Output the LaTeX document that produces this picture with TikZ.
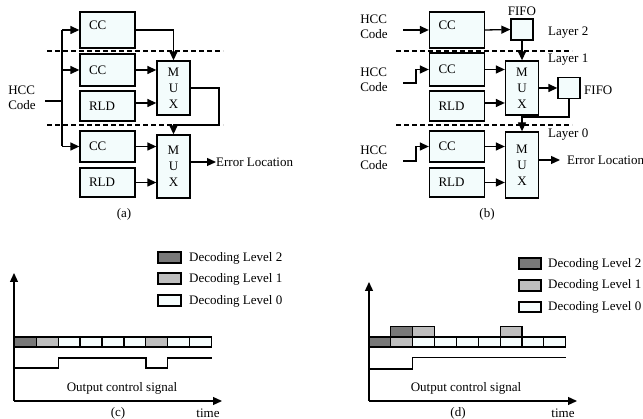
\documentclass[tikz,border=0pt]{standalone}
\usepackage{fontspec}
\setmainfont{Liberation Serif}
\usetikzlibrary{arrows.meta}
\definecolor{boxfill}{RGB}{243,252,252}
\definecolor{lvtwo}{RGB}{120,120,120}
\definecolor{lvone}{RGB}{190,190,190}
\definecolor{lvzero}{RGB}{246,253,253}
\begin{document}
\begin{tikzpicture}[x=1pt,y=-1pt,
  font=\fontsize{13}{15}\selectfont,
  ln/.style={line width=1.3pt},
  arr/.style={ln,-{Triangle[length=9pt,width=8pt]}},
  dsh/.style={line width=1.3pt,dash pattern=on 5pt off 3pt},
  blk/.style={draw,ln,fill=boxfill,minimum width=55pt,inner xsep=9pt,text width=37pt,align=left,inner ysep=0pt},
  muxbox/.style={draw,ln,fill=boxfill,minimum width=33pt,inner sep=0pt,align=center,
    font=\fontsize{13}{16}\selectfont},
  fifobox/.style={draw,ln,fill=boxfill,minimum width=22pt,minimum height=21pt,inner sep=0pt},
  txt/.style={inner sep=0pt},
  cell/.style={draw,line width=1.2pt}
]
\useasboundingbox (0,0) rectangle (643,419);

% ================= (a) =================
\node[blk,minimum height=36pt] (acc1) at (107.5,30) {CC\\[-6pt]\phantom{X}};
\node[blk,minimum height=32pt] (acc2) at (107.5,70) {CC};
\node[blk,minimum height=30pt] (arld1) at (107.5,106) {RLD};
\node[blk,minimum height=31pt] (acc3) at (107.5,146.5) {CC};
\node[blk,minimum height=29pt] (arld2) at (107.5,182.5) {RLD};
\node[muxbox,minimum height=54pt] (amux1) at (173.5,88) {M\\U\\X};
\node[muxbox,minimum height=63pt] (amux2) at (173.5,166.5) {M\\U\\X};
\draw[dsh] (47,51) -- (223,51);
\draw[dsh] (47,125) -- (223,125);
\node[txt,align=left] (ahcc) at (22,98) {HCC\\Code};
\coordinate (ain) at (45,101);
\coordinate (abusT) at (62,30);
\coordinate (abusB) at (62,146.5);
\draw[ln] (ain) -- (ain -| abusT);
\draw[ln] (abusT) -- (abusB);
\draw[arr] (abusT) -- (acc1.west);
\draw[arr] (acc2.west -| abusT) -- (acc2.west);
\draw[arr] (abusB) -- (acc3.west);
\draw[arr] (acc1.east) -| (amux1.north);
\draw[arr] (acc2.east) -- (acc2.east -| amux1.west);
\draw[arr] ([yshift=3pt]arld1.east) -- ([yshift=3pt]arld1.east -| amux1.west);
\coordinate (aret) at (219,125);
\draw[arr] (amux1.east) -| (aret) -| (amux2.north);
\draw[arr] (acc3.east) -- (acc3.east -| amux2.west);
\draw[arr] (arld2.east) -- (arld2.east -| amux2.west);
\node[txt,anchor=west] (aerr) at (216,162) {Error Location};
\draw[arr] (amux2.east |- aerr.west) -- (aerr.west);
\node[txt] (alab) at (124,214) {(a)};

% ================= (b) =================
\node[blk,minimum height=36pt] (bcc1) at (457,30) {CC\\[-6pt]\phantom{X}};
\node[blk,minimum height=33pt] (bcc2) at (457,69.5) {CC};
\node[blk,minimum height=30pt] (brld1) at (457,106) {RLD};
\node[blk,minimum height=31pt] (bcc3) at (457,146.5) {CC};
\node[blk,minimum height=29pt] (brld2) at (457,182.5) {RLD};
\node[muxbox,minimum height=54pt] (bmux1) at (522,88) {M\\U\\X};
\node[muxbox,minimum height=66pt] (bmux2) at (522,165) {M\\U\\X};
\node[fifobox] (bfifo1) at (522,29.5) {};
\node[fifobox] (bfifo2) at (569,88) {};
\node[txt] (bfifo1lab) at (522,11) {FIFO};
\node[txt,anchor=west] (bfifo2lab) at (584,90) {FIFO};
\node[txt,anchor=west] (blay2) at (548,33) {Layer 2};
\node[txt,anchor=west] (blay1) at (548,60) {Layer 1};
\node[txt,anchor=west] (blay0) at (548,135) {Layer 0};
\draw[dsh] (396,51) -- (572,51);
\draw[dsh] (396,125) -- (572,125);
\node[txt,align=left] (bhcc1) at (374,27) {HCC\\Code};
\node[txt,align=left] (bhcc2) at (374,80) {HCC\\Code};
\node[txt,align=left] (bhcc3) at (374,158) {HCC\\Code};
\coordinate (bin1) at (403,30);
\coordinate (bin2) at (403,83);
\coordinate (bin3) at (403,161);
\draw[arr] (bin1) -- (bcc1.west);
\draw[arr] (bin2) -| ([xshift=-13pt]bcc2.west) -- (bcc2.west);
\draw[arr] (bin3) -| ([xshift=-13pt]bcc3.west) -- (bcc3.west);
\draw[arr] (bcc1.east) -- (bfifo1.west);
\draw[arr] (bfifo1.south) -- (bmux1.north);
\draw[arr] (bcc2.east) -- (bcc2.east -| bmux1.west);
\draw[arr] ([yshift=3pt]brld1.east) -- ([yshift=3pt]brld1.east -| bmux1.west);
\draw[arr] (bmux1.east) -- (bfifo2.west);
\coordinate (bjoin) at (522,117);
\draw[arr] (bfifo2.south) |- (bjoin) -- (bmux2.north);
\draw[arr] (bcc3.east) -- (bcc3.east -| bmux2.west);
\draw[arr] (brld2.east) -- (brld2.east -| bmux2.west);
\node[txt,anchor=west] (berr) at (567,160) {Error Location};
\draw[arr] (bmux2.east |- berr.west) -- ([xshift=-7pt]berr.west);
\node[txt] (blab) at (487,214) {(b)};

% ================= (c) =================
\coordinate (corig) at (14,401);
\draw[arr] (corig) -- (14,273);
\draw[arr] (corig) -- (222,401);
\foreach \i/\c in {0/lvtwo,1/lvone,2/lvzero,3/lvzero,4/lvzero,5/lvzero,6/lvone,7/lvzero,8/lvzero}{
  \filldraw[cell,fill=\c] ({14.3+21.93*\i},337) rectangle ({14.3+21.93*(\i+1)},347);
}
\draw[ln] (14,368) -- (58.3,368) -- (58.3,358) -- (146,358) -- (146,368) -- (167.7,368) -- (167.7,358) -- (211.7,358);
\node[txt] (csig) at (122,388) {Output control signal};
\node[txt] (clab) at (118,413) {(c)};
\node[txt] (ctime) at (208,413) {time};
\filldraw[cell,fill=lvtwo] (158,252) rectangle (181,263);
\filldraw[cell,fill=lvone] (158,273) rectangle (181,284);
\filldraw[cell,fill=lvzero] (158,295) rectangle (181,306);
\node[txt,anchor=west] (cleg2) at (189,258) {Decoding Level 2};
\node[txt,anchor=west] (cleg1) at (189,279) {Decoding Level 1};
\node[txt,anchor=west] (cleg0) at (189,301) {Decoding Level 0};

% ================= (d) =================
\coordinate (dorig) at (369,401);
\draw[arr] (dorig) -- (369,282);
\draw[arr] (dorig) -- (577,401);
\foreach \i/\c in {0/lvtwo,1/lvone,2/lvzero,3/lvzero,4/lvzero,5/lvzero,6/lvzero,7/lvzero,8/lvzero}{
  \filldraw[cell,fill=\c] ({369+21.85*\i},337) rectangle ({369+21.85*(\i+1)},347);
}
\foreach \i/\c in {1/lvtwo,2/lvone,6/lvone}{
  \filldraw[cell,fill=\c] ({369+21.85*\i},326.7) rectangle ({369+21.85*(\i+1)},337);
}
\draw[ln] (369,369) -- (412.3,369) -- (412.3,357.7) -- (565.7,357.7);
\node[txt] (dsig) at (466,388) {Output control signal};
\node[txt] (dlab) at (458,413) {(d)};
\node[txt] (dtime) at (563,413) {time};
\filldraw[cell,fill=lvtwo] (519,258) rectangle (541,269);
\filldraw[cell,fill=lvone] (519,280) rectangle (541,291);
\filldraw[cell,fill=lvzero] (519,302) rectangle (541,312);
\node[txt,anchor=west] (dleg2) at (548,264) {Decoding Level 2};
\node[txt,anchor=west] (dleg1) at (548,285) {Decoding Level 1};
\node[txt,anchor=west] (dleg0) at (548,307) {Decoding Level 0};
\end{tikzpicture}
\end{document}
